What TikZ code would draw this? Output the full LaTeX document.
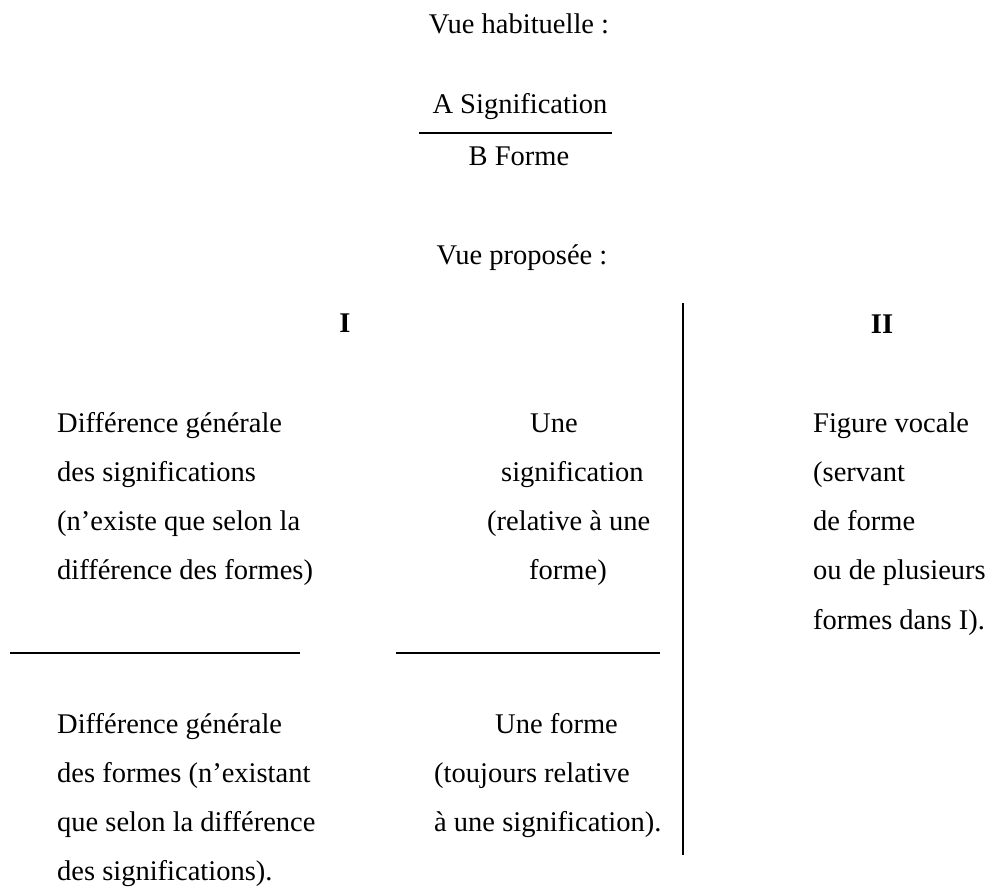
\documentclass[tikz,border=0pt]{standalone}
\usepackage{fontspec}
\setmainfont{Liberation Serif}
\usepackage{tikz}
\usetikzlibrary{positioning}

\begin{document}
\begin{tikzpicture}[x=1pt,y=1pt,
  every node/.style={font=\fontsize{28.5}{34}\selectfont,inner sep=0pt,anchor=base},
  ligne/.style={anchor=base west},
  trait/.style={line width=1.5pt}]
\useasboundingbox (0,0) rectangle (993,-886);
% titres
\node (habit) at (519,-33) {Vue habituelle :};
\node (sigA) at (520,-113) {A Signification};
\node (formeB) at (519,-165) {B Forme};
\coordinate (fracL) at (419,-133);
\coordinate (fracR) at (612,-133);
\draw[trait] (fracL) -- (fracR);
\node (propose) at (522,-264) {Vue proposée :};
% colonnes
\node[font=\fontsize{28.5}{34}\selectfont\bfseries] (numI) at (345,-332) {I};
\node[font=\fontsize{28.5}{34}\selectfont\bfseries] (numII) at (882,-333) {II};
\coordinate (sepTop) at (683,-303);
\coordinate (sepBot) at (683,-855);
\draw[trait] (sepTop) -- (sepBot);
% haut
\foreach \txt [count=\i] in {{Différence générale},{des significations},{(n’existe que selon la},{différence des formes)}}
  \node[ligne] (difSig\i) at (57,{-432-49.3*(\i-1)}) {\txt};
\foreach \x/\txt [count=\i] in {530/{Une},501/{signification},487/{(relative à une},529/{forme)}}
  \node[ligne] (uneSig\i) at (\x,{-432-49.3*(\i-1)}) {\txt};
\foreach \txt [count=\i] in {{Figure vocale},{(servant},{de forme},{ou de plusieurs},{formes dans I).}}
  \node[ligne] (figVoc\i) at (813,{-432-49.3*(\i-1)}) {\txt};
% traits
\coordinate (barLa) at (10,-653);
\coordinate (barLb) at (300,-653);
\coordinate (barMa) at (396,-653);
\coordinate (barMb) at (660,-653);
\draw[trait] (barLa) -- (barLb);
\draw[trait] (barMa) -- (barMb);
% bas
\foreach \txt [count=\i] in {{Différence générale},{des formes (n’existant},{que selon la différence},{des significations).}}
  \node[ligne] (difForm\i) at (57,{-733-49.3*(\i-1)}) {\txt};
\foreach \x/\txt [count=\i] in {495/{Une forme},434/{(toujours relative},434/{à une signification).}}
  \node[ligne] (uneForm\i) at (\x,{-733-49.3*(\i-1)}) {\txt};
\end{tikzpicture}
\end{document}
